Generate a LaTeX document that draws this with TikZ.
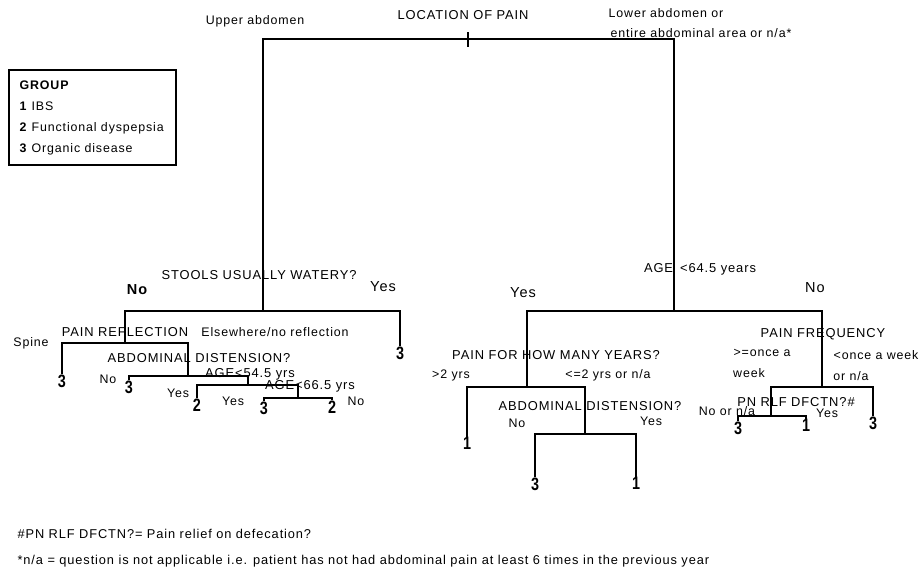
\documentclass[tikz,border=0pt]{standalone}
\usepackage{fontspec}
\setmainfont{Liberation Sans}[LetterSpace=7]
\newfontfamily\leaffont{Liberation Sans}[FakeStretch=0.8]
\usetikzlibrary{positioning}

\begin{document}
\begin{tikzpicture}[x=1pt,y=-1pt,line width=1.2pt,
    lbl/.style={anchor=base,inner sep=0pt,font=\fontsize{12.4}{14}\selectfont},
    qst/.style={lbl,font=\fontsize{12.9}{15}\selectfont},
    big/.style={lbl,font=\fontsize{14.5}{17}\selectfont},
    note/.style={lbl,anchor=base west,font=\fontsize{12.8}{15}\selectfont},
    leaf/.style={anchor=north,inner sep=0pt,font=\leaffont\bfseries\fontsize{18}{21}\selectfont}]
  \useasboundingbox (0,0) rectangle (921,571);

  \coordinate (loc) at (468,39);
  \coordinate (st) at (263,311);
  \coordinate (ag) at (674,311);
  \coordinate (pr) at (125,343);
  \coordinate (ad) at (188,376);
  \coordinate (a54) at (248,385);
  \coordinate (a66) at (298,398);
  \coordinate (py) at (527,387);
  \coordinate (ad2) at (585,434);
  \coordinate (pf) at (822,387);
  \coordinate (pn) at (771,416);

  \foreach \x/\y/\d [count=\i] in {400/346/3,62/374/3,129/380/3,197/398/2,264/401/3,332/400/2,
      467/437/1,535/477/3,636/477/1,873/416/3,738/421/3,806/419/1}
    \node[leaf] (lf\i) at (\x,\y) {\d};

  \draw ([yshift=7pt]loc) -- ([yshift=-8pt]loc);
  \draw (st) |- (loc) -| (ag);
  \draw (pr) |- (st) -| (lf1.north);
  \draw (lf2.north) |- (pr) -| (ad);
  \draw (lf3.north) |- (ad) -| (a54);
  \draw (lf4.north) |- (a54) -| (a66);
  \draw (lf5.north) |- (a66) -| (lf6.north);
  \draw (py) |- (ag) -| (pf);
  \draw (lf7.north) |- (py) -| (ad2);
  \draw (lf8.north) |- (ad2) -| (lf9.north);
  \draw (pn) |- (pf) -| (lf10.north);
  \draw (lf11.north) |- (pn) -| (lf12.north);

  \foreach \x/\y/\t [count=\i] in {463/19.5/LOCATION OF PAIN,259/279.5/STOOLS USUALLY WATERY?,
      125/336.5/PAIN REFLECTION,199/362.5/ABDOMINAL DISTENSION?,250/377.5/AGE<54.5 yrs,
      310/389.5/AGE<66.5 yrs,700/272.5/AGE\hspace{7pt}<64.5 years,556/359.5/PAIN FOR HOW MANY YEARS?,
      590/410.5/ABDOMINAL DISTENSION?,823/337.5/PAIN FREQUENCY,796/406/PN RLF DFCTN?\#}
    \node[qst] (q\i) at (\x,\y) {\t};

  \foreach \x/\y/\t [count=\i] in {255/24.5/Upper abdomen,666/17.5/Lower abdomen or,
      701/37.5/{entire abdominal area or n/a*},31/346.5/Spine,275/336.5/{Elsewhere/no reflection},
      108/383.5/No,178/397.5/Yes,233/405.5/Yes,356/405.5/No,451/378.5/>2 yrs,
      608/378.5/{<=2 yrs or n/a},517/427.5/No,651/425.5/Yes,762/356.5/>=once a,749/377.5/week,
      876/359.5/<once a week,851/380.5/{or n/a},727/415/{No or n/a},827/417/Yes}
    \node[lbl] (b\i) at (\x,\y) {\t};

  \node[big,font=\fontsize{14.5}{17}\selectfont\bfseries] (no1) at (137,294) {No};
  \node[big] (yes1) at (383,291) {Yes};
  \node[big] (yes2) at (523,297) {Yes};
  \node[big] (no2) at (815,292) {No};

  \node[draw,minimum width=167pt,minimum height=95pt,inner sep=0pt] (grp) at (92.5,117.5) {};
  \foreach \t/\y [count=\i] in {\textbf{GROUP}/89.5,\textbf{1} IBS/110.5,
      \textbf{2} Functional dyspepsia/131.5,\textbf{3} Organic disease/152.5}
    \node[lbl,anchor=base west] (g\i) at (19,\y) {\t};

  \node[note] (fn1) at (17,538.5) {\#PN RLF DFCTN?= Pain relief on defecation?};
  \node[note] (fn2) at (17,564.5) {*n/a = question is not applicable i.e. patient has not had abdominal pain at least 6 times in the previous year};
\end{tikzpicture}
\end{document}
